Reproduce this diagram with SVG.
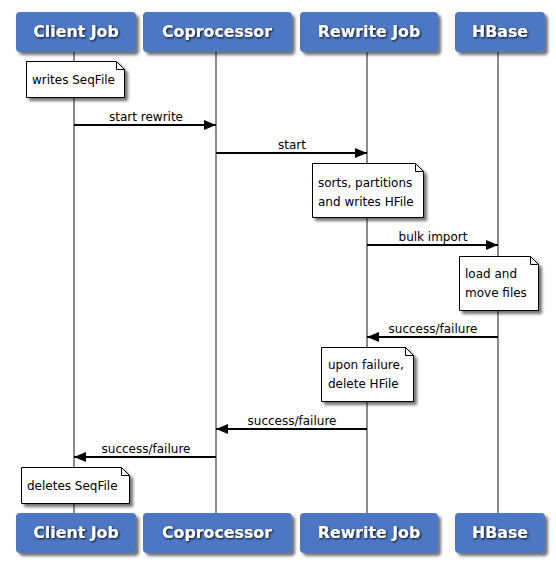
<svg xmlns="http://www.w3.org/2000/svg" width="556" height="562" viewBox="0 0 556 562">
<defs>
<filter id="sh" x="-10%" y="-10%" width="130%" height="140%">
<feDropShadow dx="3" dy="3" stdDeviation="1.5" flood-color="#000" flood-opacity="0.55"/>
</filter>
<filter id="tsh" x="-10%" y="-30%" width="130%" height="170%">
<feDropShadow dx="1" dy="1" stdDeviation="0.8" flood-color="#000" flood-opacity="0.9"/>
</filter>
<marker id="ah" markerWidth="12" markerHeight="10" refX="12" refY="5" orient="auto" markerUnits="userSpaceOnUse">
<path d="M0,0 L12,5 L0,10 Z" fill="#000"/>
</marker>
</defs>
<style>
.actor rect{fill:#4d77c3;filter:url(#sh)}
.actor text{font-family:"DejaVu Sans",sans-serif;font-weight:bold;font-size:15.8px;fill:#fff;text-anchor:middle;filter:url(#tsh)}
.life{stroke:#8c8c8c;stroke-width:2;fill:none}
.msg line{stroke:#000;stroke-width:2;marker-end:url(#ah)}
.msg text,.note text{font-family:"DejaVu Sans",sans-serif;font-size:12px;fill:#000}
.msg text{text-anchor:middle}
.note path.b{fill:#fff;stroke:#000;stroke-width:1;filter:url(#sh)}
.note path.f{fill:none;stroke:#000;stroke-width:1}
</style>
<rect width="556" height="562" fill="#fff"/>
<g id="lifelines">
<line class="life" x1="74" y1="52" x2="74" y2="513"/>
<line class="life" x1="216" y1="52" x2="216" y2="513"/>
<line class="life" x1="367" y1="52" x2="367" y2="513"/>
<line class="life" x1="498" y1="52" x2="498" y2="513"/>
</g>
<g id="actor-client-top" class="actor"><rect x="16" y="12" width="120" height="40" rx="4"/><text x="76" y="37">Client Job</text></g>
<g id="actor-coproc-top" class="actor"><rect x="143" y="12" width="149" height="40" rx="4"/><text x="217" y="37">Coprocessor</text></g>
<g id="actor-rewrite-top" class="actor"><rect x="300" y="12" width="138" height="40" rx="4"/><text x="369" y="37">Rewrite Job</text></g>
<g id="actor-hbase-top" class="actor"><rect x="455" y="12" width="90" height="40" rx="4"/><text x="500" y="37">HBase</text></g>
<g id="actor-client-bottom" class="actor"><rect x="16" y="513" width="120" height="40" rx="4"/><text x="76" y="538">Client Job</text></g>
<g id="actor-coproc-bottom" class="actor"><rect x="143" y="513" width="149" height="40" rx="4"/><text x="217" y="538">Coprocessor</text></g>
<g id="actor-rewrite-bottom" class="actor"><rect x="300" y="513" width="138" height="40" rx="4"/><text x="369" y="538">Rewrite Job</text></g>
<g id="actor-hbase-bottom" class="actor"><rect x="455" y="513" width="90" height="40" rx="4"/><text x="500" y="538">HBase</text></g>
<g id="connectors">
<g class="msg"><line x1="74" y1="125" x2="216" y2="125"/><text x="146" y="121">start rewrite</text></g>
<g class="msg"><line x1="216" y1="153" x2="367" y2="153"/><text x="292" y="149">start</text></g>
<g class="msg"><line x1="367" y1="245" x2="498" y2="245"/><text x="433" y="241">bulk import</text></g>
<g class="msg"><line x1="498" y1="337" x2="367" y2="337"/><text x="433" y="333">success/failure</text></g>
<g class="msg"><line x1="367" y1="429" x2="216" y2="429"/><text x="292" y="425">success/failure</text></g>
<g class="msg"><line x1="216" y1="457" x2="74" y2="457"/><text x="146" y="453">success/failure</text></g>
</g>
<g id="note-writes" class="note"><path class="b" d="M26.5,61.5 H116.5 L124.5,69.5 V97.5 H26.5 Z"/><path class="f" d="M116.5,61.5 V69.5 H124.5"/><text x="32" y="84">writes SeqFile</text></g>
<g id="note-sorts" class="note"><path class="b" d="M312.5,163.5 H415.5 L423.5,171.5 V217.5 H312.5 Z"/><path class="f" d="M415.5,163.5 V171.5 H423.5"/><text x="318" y="187">sorts, partitions</text><text x="318" y="206">and writes HFile</text></g>
<g id="note-load" class="note"><path class="b" d="M459.5,256.5 H530.5 L538.5,264.5 V310.5 H459.5 Z"/><path class="f" d="M530.5,256.5 V264.5 H538.5"/><text x="465" y="278">load and</text><text x="465" y="297">move files</text></g>
<g id="note-upon" class="note"><path class="b" d="M321.5,347.5 H405.5 L413.5,355.5 V401.5 H321.5 Z"/><path class="f" d="M405.5,347.5 V355.5 H413.5"/><text x="328" y="369">upon failure,</text><text x="328" y="388">delete HFile</text></g>
<g id="note-deletes" class="note"><path class="b" d="M21.5,467.5 H121.5 L129.5,475.5 V503.5 H21.5 Z"/><path class="f" d="M121.5,467.5 V475.5 H129.5"/><text x="27" y="490">deletes SeqFile</text></g>
</svg>
